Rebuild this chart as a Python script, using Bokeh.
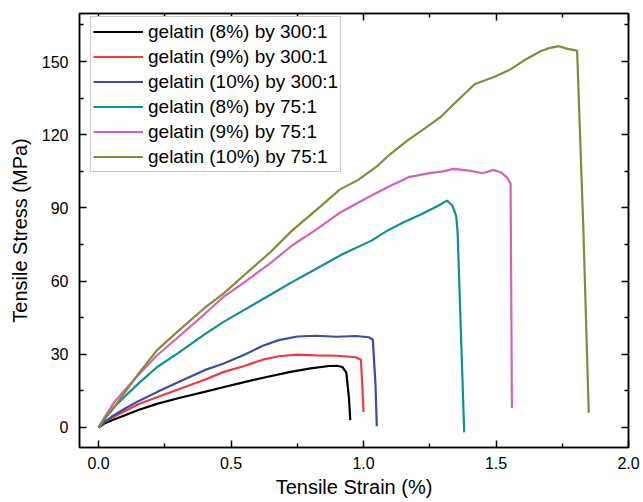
from bokeh.plotting import figure
from bokeh.models import (LinearAxis, FixedTicker, CustomJSTickFormatter, Legend,
                          LegendItem, NumeralTickFormatter, Range1d)
from bokeh.embed import file_html
from bokeh.resources import INLINE

# ---- data ----
labels = ["gelatin (8%) by 300:1", "gelatin (9%) by 300:1", "gelatin (10%) by 300:1",
          "gelatin (8%) by 75:1", "gelatin (9%) by 75:1", "gelatin (10%) by 75:1"]
colors = ["#000000", "#f23a3a", "#3b4ba8", "#0e9190", "#d762b4", "#858a35"]

s8_300_x = [0, 0.02, 0.05, 0.1, 0.15, 0.22, 0.3, 0.4, 0.47, 0.55, 0.63, 0.72, 0.8, 0.87, 0.9, 0.92, 0.935, 0.945, 0.95]
s8_300_y = [0, 1.5, 3.0, 5.0, 7.2, 9.7, 12.0, 14.6, 16.5, 18.6, 20.6, 22.7, 24.2, 25.2, 25.3, 24.8, 22.5, 12.0, 3.0]

s9_300_x = [0, 0.02, 0.05, 0.1, 0.15, 0.22, 0.3, 0.4, 0.47, 0.55, 0.62, 0.68, 0.75, 0.82, 0.9, 0.97, 0.99, 0.995, 1.0]
s9_300_y = [0, 2.0, 4.0, 6.8, 9.5, 12.4, 15.6, 19.6, 22.7, 25.2, 27.8, 29.2, 29.9, 29.6, 29.4, 28.8, 27.8, 18.0, 6.3]

s10_300_x = [0, 0.02, 0.05, 0.1, 0.15, 0.22, 0.3, 0.4, 0.47, 0.55, 0.62, 0.68, 0.75, 0.82, 0.9, 0.97, 1.02, 1.035, 1.045, 1.05]
s10_300_y = [0, 2.0, 4.5, 7.8, 10.8, 14.5, 18.5, 23.5, 26.1, 29.8, 33.5, 35.8, 37.3, 37.6, 37.2, 37.5, 37.0, 36.0, 18.0, 0.5]

s8_75_x = [0, 0.03, 0.06, 0.1, 0.15, 0.22, 0.3, 0.4, 0.47, 0.55, 0.65, 0.73, 0.82, 0.92, 1.03, 1.09, 1.15, 1.22, 1.28, 1.315, 1.335, 1.35, 1.355, 1.38]
s8_75_y = [0, 4.5, 8.5, 12.8, 18.0, 24.7, 30.5, 38.2, 43.2, 48.2, 54.5, 59.6, 65.0, 71.0, 76.6, 80.7, 84.0, 87.5, 90.8, 93.0, 91.0, 86.5, 80.0, -2.0]

s9_75_x = [0, 0.03, 0.06, 0.1, 0.15, 0.22, 0.3, 0.4, 0.47, 0.55, 0.65, 0.73, 0.82, 0.91, 1.03, 1.1, 1.17, 1.25, 1.3, 1.34, 1.4, 1.45, 1.49, 1.52, 1.54, 1.555, 1.56]
s9_75_y = [0, 5.5, 10.5, 15.5, 21.5, 29.5, 37.0, 46.5, 53.4, 59.5, 67.5, 74.6, 81.0, 88.0, 95.1, 99.0, 102.6, 104.3, 105.0, 106.0, 105.3, 104.2, 105.6, 104.5, 102.6, 100.0, 8.0]

s10_75_x = [0, 0.02, 0.05, 0.1, 0.15, 0.22, 0.3, 0.4, 0.47, 0.55, 0.65, 0.73, 0.82, 0.91, 0.98, 1.05, 1.1, 1.165, 1.23, 1.29, 1.35, 1.42, 1.49, 1.55, 1.605, 1.668, 1.7, 1.737, 1.77, 1.806, 1.83, 1.85]
s10_75_y = [0, 3.5, 7.0, 14.5, 22.0, 31.6, 39.5, 49.0, 54.8, 62.5, 72.0, 80.7, 89.0, 97.5, 101.5, 107.0, 112.0, 117.6, 122.5, 127.2, 133.5, 140.8, 143.6, 146.5, 150.4, 154.2, 155.5, 156.3, 155.2, 154.5, 80.0, 6.0]

xs = [s8_300_x, s9_300_x, s10_300_x, s8_75_x, s9_75_x, s10_75_x]
ys = [s8_300_y, s9_300_y, s10_300_y, s8_75_y, s9_75_y, s10_75_y]

x_major = [0, 0.5, 1.0, 1.5, 2.0]
x_minor = [0.25, 0.75, 1.25, 1.75]
y_major = [0, 30, 60, 90, 120, 150]
y_minor = [15, 45, 75, 105, 135, 165]

FONT = "Liberation Sans"

p = figure(width=643, height=502, output_backend="svg", toolbar_location=None,
           x_range=Range1d(-0.072, 2.0), y_range=Range1d(-8.2, 169.7),
           min_border_left=79, min_border_right=15, min_border_top=13, min_border_bottom=55,
           x_axis_label="Tensile Strain (%)", y_axis_label="Tensile Stress (MPa)")
p.grid.visible = False
p.outline_line_color = "black"
p.outline_line_width = 1.5
p.background_fill_color = "white"
p.border_fill_color = "white"

def style_axis(ax, show_labels=True):
    ax.axis_line_width = 1.5
    ax.axis_line_color = "black"
    ax.major_tick_in = 7
    ax.major_tick_out = 0
    ax.minor_tick_in = 4
    ax.minor_tick_out = 0
    ax.major_tick_line_width = 1.5
    ax.minor_tick_line_width = 1.5
    ax.major_tick_line_color = "black"
    ax.minor_tick_line_color = "black"
    if show_labels:
        ax.major_label_text_font = FONT
        ax.major_label_text_font_size = "16px"
        ax.major_label_text_color = "black"
        ax.axis_label_text_font = FONT
        ax.axis_label_text_font_size = "20px"
        ax.axis_label_text_font_style = "normal"
        ax.axis_label_text_color = "black"

xa = p.xaxis[0]
ya = p.yaxis[0]
xa.ticker = FixedTicker(ticks=x_major, minor_ticks=x_minor)
ya.ticker = FixedTicker(ticks=y_major, minor_ticks=y_minor)
xa.formatter = NumeralTickFormatter(format="0.0")
style_axis(xa)
style_axis(ya)
xa.major_label_standoff = 9
xa.axis_label_standoff = 4
ya.major_label_standoff = 11
ya.axis_label_standoff = 8

blank = CustomJSTickFormatter(code="return ''")
top = LinearAxis(ticker=FixedTicker(ticks=x_major, minor_ticks=x_minor), formatter=blank,
                 major_label_standoff=0, major_label_text_font_size="1px")
right = LinearAxis(ticker=FixedTicker(ticks=y_major, minor_ticks=y_minor), formatter=blank,
                   major_label_standoff=0, major_label_text_font_size="1px")
style_axis(top, False)
style_axis(right, False)
p.add_layout(top, "above")
p.add_layout(right, "right")

items = []
for lab, col, x, y in zip(labels, colors, xs, ys):
    r = p.line(x, y, line_color=col, line_width=2.2)
    items.append(LegendItem(label=lab, renderers=[r]))

legend = Legend(items=items, location=(11, 275))
legend.label_text_font = FONT
legend.label_text_font_size = "19px"
legend.label_text_color = "black"
legend.glyph_width = 50
legend.glyph_height = 25
legend.label_height = 25
legend.label_standoff = 5
legend.spacing = 0
legend.padding = 2
legend.margin = 0
legend.border_line_color = "#9a9a9a"
legend.border_line_width = 1.5
legend.background_fill_alpha = 1.0
p.add_layout(legend, "center")

open("out.html", "w").write(file_html(p, INLINE))
